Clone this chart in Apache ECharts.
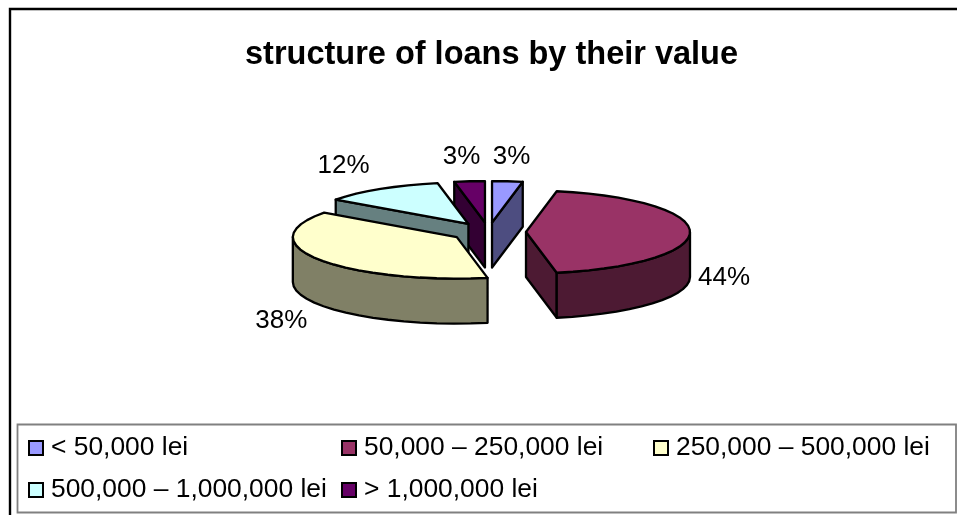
<!DOCTYPE html>
<html>
<head>
<meta charset="utf-8">
<title>structure of loans by their value</title>
<style>html,body{margin:0;padding:0;background:#fff}#chart{width:957px;height:515px}</style>
<script src="https://cdn.jsdelivr.net/npm/echarts@6/dist/echarts.min.js"></script>
</head>
<body>
<div id="chart"></div>
<script>
// Loan structure by value band, percent of the total
const titleText = 'structure of loans by their value';
const categories = ['< 50,000 lei', '50,000 – 250,000 lei', '250,000 – 500,000 lei', '500,000 – 1,000,000 lei', '> 1,000,000 lei'];
const shares = [3, 44, 38, 12, 3];
const topColors = ['#9999FF', '#993366', '#FFFFCC', '#CCFFFF', '#660066'];
const sideColors = ['#4D4D80', '#4D1A33', '#808066', '#668080', '#330033'];

// Projection of the tilted, exploded pie
const CX = 488.5, CY = 232, RX = 164, RY = 41.5, DEPTH = 45, EXPLODE = 37.5;
const ARC_STEP = 6;
const FONT = '"Liberation Sans", Arial, sans-serif';
// Paint order back to front, and label offsets from the rim at each slice's mid angle
const paintRank = [1, 3, 4, 2, 0];
const labelNudge = [[4, -24], [34, 46], [-37, 62], [-37, -23], [-8, -24]];

const total = shares.reduce((a, b) => a + b, 0);
const rad = d => d * Math.PI / 180;
const rim = (o, deg) => [o[0] + RX * Math.sin(rad(deg)), o[1] - RY * Math.cos(rad(deg))];
const down = p => [p[0], p[1] + DEPTH];

function arcPoints(o, from, to) {
  const pts = [];
  const n = Math.max(1, Math.ceil((to - from) / ARC_STEP));
  for (let i = 0; i <= n; i++) pts.push(rim(o, from + (to - from) * i / n));
  return pts;
}

function sliceRenderer(index) {
  return function (params, api) {
    const start = api.value(1) / total * 360;
    const end = (api.value(1) + api.value(0)) / total * 360;
    const mid = (start + end) / 2;
    const apex = [
      CX + EXPLODE * Math.sin(rad(mid)),
      CY - EXPLODE * (RY / RX) * Math.cos(rad(mid))
    ];
    const edge = { stroke: '#000', lineWidth: 2.3, lineJoin: 'round' };
    const face = (points, fill) => ({
      type: 'polygon', shape: { points }, style: Object.assign({ fill }, edge)
    });
    const wallFace = pts => face(pts.concat(pts.slice().reverse().map(down)), sideColors[index]);
    const children = [];
    // Cut faces turned toward the viewer
    if (start > 180 && start < 360) children.push(wallFace([rim(apex, start), apex]));
    if (end > 0 && end < 180) children.push(wallFace([apex, rim(apex, end)]));
    // Outer wall, front half of the ellipse only
    const wallFrom = Math.max(start, 90), wallTo = Math.min(end, 270);
    if (wallTo > wallFrom) children.push(wallFace(arcPoints(apex, wallFrom, wallTo)));
    // Top surface
    children.push(face([apex].concat(arcPoints(apex, start, end)), topColors[index]));
    // Percent label
    const anchor = rim(apex, mid);
    children.push({
      type: 'text',
      style: {
        x: anchor[0] + labelNudge[index][0],
        y: anchor[1] + labelNudge[index][1],
        text: api.value(0) + '%',
        fill: '#000', font: '26px ' + FONT, align: 'center', verticalAlign: 'middle'
      }
    });
    return { type: 'group', children };
  };
}

let running = 0;
const series = categories.map((name, i) => {
  const item = {
    type: 'custom',
    name,
    coordinateSystem: 'none',
    z: 2 + paintRank[i],
    silent: true,
    itemStyle: { color: topColors[i] },
    data: [[shares[i], running]],
    renderItem: sliceRenderer(i)
  };
  running += shares[i];
  return item;
});

const legendBase = {
  orient: 'vertical',
  icon: 'rect',
  selectedMode: false,
  itemWidth: 14,
  itemHeight: 14,
  itemGap: 16,
  padding: 0,
  top: 435,
  textStyle: { color: '#000', fontFamily: FONT, fontSize: 26.4, padding: [0, 0, 0, 3] },
  itemStyle: { borderColor: '#000', borderWidth: 2 }
};

const option = {
  animation: false,
  backgroundColor: '#fff',
  title: {
    text: titleText,
    left: 245,
    top: 39,
    padding: 0,
    textStyle: { color: '#000', fontFamily: FONT, fontWeight: 'bold', fontSize: 32.5 }
  },
  legend: [
    Object.assign({}, legendBase, { left: 28, data: [categories[0], categories[3]] }),
    Object.assign({}, legendBase, { left: 341, data: [categories[1], categories[4]] }),
    Object.assign({}, legendBase, { left: 653, data: [categories[2]] })
  ],
  graphic: [
    // Chart frame: only its top and left sides fall inside the page
    { type: 'polyline', z: 0, shape: { points: [[10, 515], [10, 9], [957, 9]] }, style: { fill: null, stroke: '#000', lineWidth: 2.4 } },
    // Legend box
    { type: 'rect', z: 0, shape: { x: 17.5, y: 424.5, width: 938.5, height: 88 }, style: { fill: '#fff', stroke: '#808080', lineWidth: 1.8 } }
  ],
  series
};

echarts.init(document.getElementById('chart'), null, { renderer: 'canvas' }).setOption(option);
</script>
</body>
</html>
